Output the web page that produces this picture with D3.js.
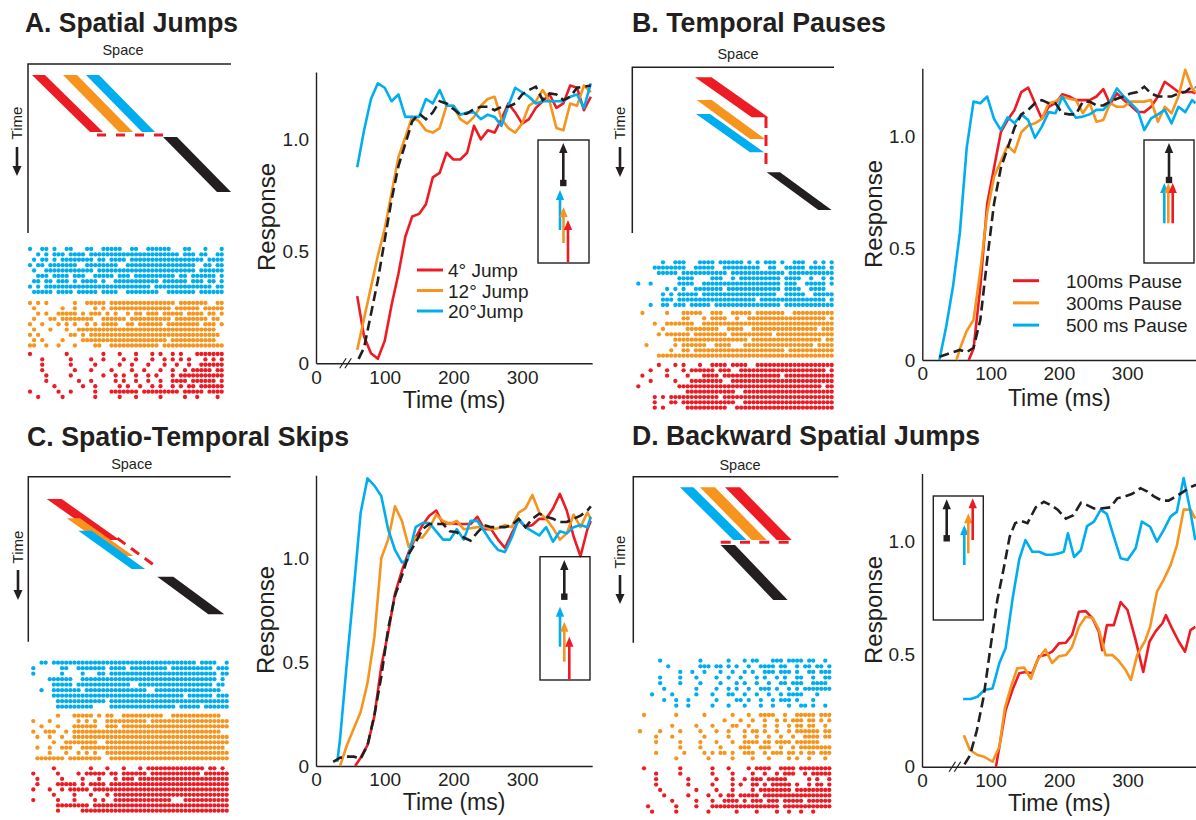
<!DOCTYPE html>
<html>
<head>
<meta charset="utf-8">
<script src="https://cdn.jsdelivr.net/npm/d3@7"></script>
<style>
  body { margin: 0; background: #fff; }
  svg { display: block; }
  text { font-family: "Liberation Sans", Arial, Helvetica, sans-serif; fill: #231f20; }
</style>
</head>
<body>
<svg id="fig" width="1196" height="820"></svg>
<script>
// ---------- response curves: [time after onset (ms), normalized response] ----------
// A. spatial jumps
const jump4  = [[60,0.30],[70,0.12],[80,0.045],[90,0.02],[100,0.10],[110,0.26],[120,0.40],[130,0.565],[140,0.655],[150,0.667],[160,0.71],[170,0.83],[180,0.85],[190,0.94],[200,0.91],[210,0.91],[220,0.94],[230,1.06],[240,1.00],[250,1.04],[260,1.03],[270,1.09],[280,1.16],[290,1.12],[300,1.07],[310,1.09],[320,1.14],[330,1.17],[340,1.20],[350,1.14],[360,1.16],[370,1.24],[380,1.23],[390,1.13],[400,1.19]];
const jump12 = [[60,0.06],[70,0.20],[80,0.34],[90,0.48],[100,0.60],[110,0.76],[120,0.92],[130,1.01],[140,1.10],[150,1.08],[160,1.04],[170,1.03],[180,1.05],[190,1.15],[200,1.15],[210,1.09],[220,1.07],[230,1.10],[240,1.15],[250,1.18],[260,1.19],[270,1.09],[280,1.05],[290,1.03],[300,1.07],[310,1.15],[320,1.17],[330,1.22],[340,1.17],[350,1.05],[360,1.04],[370,1.16],[380,1.15],[390,1.24],[400,1.21]];
const jump20 = [[60,0.875],[70,1.04],[80,1.18],[90,1.25],[100,1.23],[110,1.17],[120,1.20],[130,1.10],[140,1.10],[150,1.10],[160,1.18],[170,1.16],[180,1.22],[190,1.15],[200,1.15],[210,1.11],[220,1.12],[230,1.12],[240,1.09],[250,1.11],[260,1.10],[270,1.06],[280,1.15],[290,1.23],[300,1.21],[310,1.19],[320,1.16],[330,1.17],[340,1.17],[350,1.17],[360,1.17],[370,1.19],[380,1.20],[390,1.14],[400,1.25]];
const jumpRef = [[62,0.02],[70,0.07],[80,0.22],[90,0.37],[100,0.55],[110,0.73],[120,0.88],[130,0.98],[140,1.08],[150,1.115],[160,1.09],[170,1.12],[180,1.17],[190,1.16],[200,1.135],[210,1.11],[220,1.115],[230,1.135],[240,1.145],[250,1.145],[260,1.13],[270,1.145],[280,1.145],[290,1.16],[300,1.20],[310,1.22],[320,1.235],[330,1.175],[340,1.205],[350,1.20],[360,1.175],[370,1.19],[380,1.23],[390,1.235],[400,1.24]];

// B. temporal pauses
const pause100 = [[68,0],[75,0.05],[85,0.33],[95,0.70],[105,0.86],[115,1.02],[125,1.075],[135,1.12],[145,1.20],[155,1.22],[165,1.15],[175,1.08],[185,1.134],[195,1.15],[205,1.19],[215,1.18],[225,1.164],[235,1.164],[245,1.164],[255,1.18],[265,1.213],[275,1.146],[285,1.194],[295,1.164],[305,1.14],[315,1.112],[325,1.11],[335,1.134],[345,1.18],[355,1.246],[365,1.224],[375,1.20],[385,1.20],[395,1.20],[400,1.194]];
const pause300 = [[50,0],[55,0.05],[65,0.13],[75,0.18],[85,0.40],[95,0.66],[105,0.82],[115,0.89],[125,0.96],[135,0.93],[145,1.02],[155,1.05],[165,1.06],[175,1.08],[185,1.15],[195,1.157],[205,1.18],[215,1.17],[225,1.164],[235,1.105],[245,1.15],[255,1.067],[265,1.075],[275,1.15],[285,1.134],[295,1.134],[305,1.157],[315,1.157],[325,1.157],[335,1.164],[345,1.067],[355,1.134],[365,1.105],[375,1.18],[385,1.30],[395,1.216],[400,1.20]];
const pause500 = [[25,0],[35,0.15],[45,0.33],[55,0.57],[65,0.95],[75,1.157],[85,1.15],[95,1.18],[105,1.08],[115,1.03],[125,1.087],[135,1.06],[145,1.10],[155,1.075],[165,0.995],[175,1.045],[185,1.11],[195,1.105],[205,1.18],[215,1.127],[225,1.085],[235,1.09],[245,1.10],[255,1.12],[265,1.12],[275,1.157],[285,1.216],[295,1.18],[305,1.15],[315,1.12],[325,1.03],[335,1.082],[345,1.10],[355,1.12],[365,1.06],[375,1.134],[385,1.11],[395,1.164],[400,1.15]];
const pauseRef = [[25,0.015],[35,0.025],[45,0.035],[55,0.045],[65,0.035],[75,0.055],[85,0.18],[95,0.45],[105,0.70],[115,0.86],[125,0.95],[135,1.04],[145,1.10],[155,1.12],[165,1.15],[175,1.164],[185,1.15],[195,1.15],[205,1.105],[215,1.10],[225,1.10],[235,1.157],[245,1.157],[255,1.14],[265,1.14],[275,1.157],[285,1.17],[295,1.18],[305,1.194],[315,1.20],[325,1.224],[335,1.194],[345,1.18],[355,1.18],[365,1.18],[375,1.194],[385,1.20],[395,1.224],[400,1.22]];

// C. spatio-temporal skips
const skipRed = [[57,0],[65,0.04],[75,0.10],[85,0.24],[95,0.48],[105,0.64],[115,0.83],[125,0.94],[135,1.03],[145,1.10],[155,1.16],[165,1.205],[175,1.23],[185,1.165],[195,1.17],[205,1.165],[215,1.165],[225,1.165],[235,1.20],[245,1.14],[255,1.14],[265,1.09],[275,1.05],[285,1.12],[295,1.185],[305,1.15],[315,1.16],[325,1.19],[335,1.19],[345,1.24],[355,1.31],[365,1.23],[375,1.105],[385,1.01],[395,1.14],[400,1.18]];
const skipOrange = [[35,0],[45,0.10],[55,0.18],[65,0.26],[75,0.40],[85,0.62],[95,1.0],[105,1.09],[115,1.25],[125,1.18],[135,1.055],[145,1.10],[155,1.10],[165,1.145],[175,1.21],[185,1.18],[195,1.165],[205,1.18],[215,1.14],[225,1.145],[235,1.15],[245,1.15],[255,1.14],[265,1.145],[275,1.16],[285,1.15],[295,1.22],[305,1.24],[315,1.305],[325,1.22],[335,1.19],[345,1.145],[355,1.09],[365,1.12],[375,1.21],[385,1.15],[395,1.22],[400,1.19]];
const skipCyan = [[31,0.02],[35,0.13],[45,0.50],[55,0.85],[65,1.22],[75,1.385],[85,1.35],[95,1.30],[105,1.14],[115,1.04],[125,0.98],[133,0.99],[145,1.15],[155,1.17],[165,1.17],[175,1.13],[185,1.09],[195,1.09],[205,1.14],[215,1.09],[225,1.18],[235,1.18],[245,1.13],[255,1.08],[265,1.04],[275,1.03],[285,1.10],[295,1.19],[305,1.15],[315,1.13],[325,1.11],[335,1.15],[345,1.08],[355,1.13],[365,1.12],[375,1.15],[385,1.16],[395,1.15],[400,1.20]];
const skipRef = [[25,0.02],[35,0.04],[45,0.045],[55,0.045],[65,0.035],[75,0.10],[85,0.245],[95,0.43],[105,0.66],[115,0.82],[125,0.915],[135,1.02],[145,1.075],[155,1.14],[165,1.165],[175,1.165],[185,1.165],[195,1.13],[205,1.125],[215,1.10],[225,1.085],[235,1.125],[245,1.16],[255,1.15],[265,1.15],[275,1.15],[285,1.16],[295,1.19],[305,1.15],[315,1.19],[325,1.215],[335,1.20],[345,1.19],[355,1.175],[365,1.175],[375,1.19],[385,1.205],[395,1.23],[400,1.25]];

// D. backward spatial jumps
const backCyan = [[60,0.30],[71,0.30],[81,0.31],[91,0.34],[103,0.347],[113,0.46],[122,0.525],[132,0.74],[142,0.92],[151,1.005],[161,0.953],[171,0.953],[181,0.94],[190,0.94],[200,0.946],[207,0.953],[213,1.035],[222,0.93],[232,0.96],[241,1.067],[251,1.087],[261,1.14],[270,1.12],[280,1.02],[290,0.924],[300,0.917],[312,0.97],[321,1.087],[333,1.064],[343,0.998],[353,1.05],[363,1.11],[372,1.13],[382,1.28],[391,1.146],[399,1.005]];
const backOrange = [[61,0.14],[70,0.074],[81,0.052],[91,0.044],[103,0.022],[113,0.089],[121,0.26],[130,0.355],[139,0.436],[149,0.44],[159,0.39],[168,0.47],[180,0.52],[190,0.46],[200,0.49],[210,0.495],[219,0.53],[229,0.62],[239,0.665],[249,0.66],[258,0.61],[268,0.495],[278,0.495],[287,0.47],[297,0.43],[305,0.385],[314,0.495],[326,0.56],[333,0.62],[343,0.776],[353,0.83],[363,0.895],[372,0.98],[382,1.14],[392,1.14],[399,1.10]];
const backRed = [[108,0],[113,0.089],[122,0.25],[132,0.34],[142,0.414],[151,0.42],[161,0.414],[171,0.49],[180,0.495],[190,0.51],[200,0.547],[210,0.55],[219,0.584],[229,0.687],[239,0.69],[249,0.658],[258,0.60],[263,0.517],[270,0.628],[280,0.628],[290,0.73],[300,0.695],[312,0.56],[323,0.42],[332,0.554],[341,0.60],[351,0.636],[356,0.672],[365,0.613],[375,0.554],[384,0.51],[392,0.606],[399,0.62]];
const backRef = [[62,0.01],[70,0.05],[80,0.16],[90,0.31],[100,0.53],[110,0.74],[120,0.89],[128,1.02],[136,1.08],[144,1.09],[154,1.08],[166,1.15],[178,1.175],[188,1.16],[198,1.14],[210,1.10],[221,1.115],[232,1.17],[241,1.16],[251,1.145],[261,1.145],[275,1.15],[285,1.19],[295,1.197],[307,1.21],[319,1.235],[329,1.22],[338,1.20],[350,1.18],[360,1.18],[370,1.197],[382,1.22],[392,1.24],[400,1.25]];

// axis ticks
const timeTicks = [0, 100, 200, 300];
const respTicks = [0, 0.5, 1.0];

// legend labels
const legendA = ["4\u00b0 Jump", "12\u00b0 Jump", "20\u00b0Jump"];
const legendB = ["100ms Pause", "300ms Pause", "500 ms Pause"];

// ---------- spike rasters: one string per trial, 'o' = spike in that time bin ----------
const rasterA_cyan = [
"o..oo.o. .oo...oo ..ooooo. .oo..ooo ooo...oo ...o...o",
"..o.o.oo o.oooo.o oooooooo oooooooo ooooo.oo o.oo..oo",
".o.oo.o. oooooooo .oo.oooo .ooooooo oooooooo ooo.oooo",
"o.oo.ooo oooo..oo oooooo.. oooooooo oooooooo o..oo.oo",
".o..oooo oooooooo .ooooooo oooooooo oooooooo o.oooooo",
"..ooo.oo oo.ooo.. ooooo.oo o.oooooo oooo.oo. oooooo.o",
".oo.oo.o oo.o.ooo o.o..ooo oooooooo .oooooo. ooo.oo.o",
"o.o.oooo oooooooo oooooooo oooooo.o oooooooo ooooo.oo",
".ooooo.o ooo.oooo o.oooo.. oooooooo ..oooooo o.oooooo"];
const rasterA_orange = [
"o.o.o... ...o..oo ooo.oooo oooooooo oooo.ooo oooo..oo",
".o...... o..o.... o.o.oooo oooooooo ooo.oooo oo.ooooo",
"..o.o..o oooo.o.o oo.o.o.. o.oo.ooo .ooooo.o ooo.oo.o",
".o...oo. oooooooo ..oooooo .ooooooo ooo.oooo oooo.oo.",
"o..o...o .o.o..o. o.oooo.. oo.ooooo o.oooooo oo.ooo.o",
".o...o.. .o..oooo oooooooo oooooooo oooooooo oooooo..",
"o.o..... ..oo.o.o oooooooo oooooooo oooooooo ooooooo.",
".o.o.... o....ooo oooooooo oooooooo oo.ooooo oooooo..",
"oo..o..o ...o.... oo..oooo oooooooo .ooooooo oooooooo"];
const rasterA_red = [
"o....... .o...... ..o...o. ..o...o. o..o.o.. .ooooooo",
"...o.... ..o....o ..o....o ..o...o. .o.o.o.o ...o.o.o",
"...o.... ..o..... o.....o. .o...o.. .o..o..o ..oooooo",
"...o.... ...o...o ....o... .o..o... o..o..o. ooooo.oo",
"....o... ..o..... ..o..o.o ..o..o.o ...o.ooo oooooooo",
"....o... ....o..o .....o.o ..o..o.. o..oooo. oooooo.o",
"......o. .....o.. o.....o. o..o..o. o..o.o.o o.oooooo",
"o......o ..o..... o...oooo ooo.oooo ooooo.oo ooo.oooo",
"..o..... o....... o.....o. ..o..... o.....o. .o....o."];

const rasterB_cyan = [
"......o. .ooo...o ooo.oooo oo.o.o.o oo.o..oo o..o.o.o",
"....oooo oooo..oo ooo..ooo oooooo.. oo..oooo o.oooo.o",
".....ooo oo.ooooo oooooo.o oooooooo oooo.ooo oooooooo",
"........ ..oooo.. ..ooo..o .ooooooo ooo.oooo ..o..o.o",
"o..o.... ..oooo.. oooooooo oooooooo ooo.ooo. .ooooo.o",
".......o .o.o..oo ooooo.oo oooooooo ooo.oooo ..oooo..",
"......o. o.ooooo. oooooooo oooooooo oo..oooo o..ooooo",
"......oo o.oooooo oooooooo ooooo.oo oooooooo oooooo.o",
"...o..oo .ooo.ooo oo.ooooo oooooooo ooo.oooo oooooooo"];
const rasterB_orange = [
".o.....o ...ooooo ..ooo..o oooo.ooo oooo..oo oooooooo",
"........ ...oo... o.oooo.. o..ooooo oooooooo oooooo.o",
"....o..o oooooo.. oooooooo oooooooo oooooooo oooooooo",
"......o. ....oooo oooo..oo oo..oooo oooooooo oooo.ooo",
".....o.o ooooo.oo oooooo.o oooooooo o.oooooo oooooooo",
"........ .ooooooo oooooooo ooo.oooo oooooooo ooooo.oo",
"..o..... .o.ooooo o..oooo. ..oooooo oooooooo ooo.oooo",
"........ o..oo.oo oooooooo oooooooo oooo.ooo oooooooo",
".....ooo oooooooo oooooooo oooooooo oooooooo oooooooo"];
const rasterB_red = [
".....o.. .o.o...o ..oooo.o ooo..ooo oooooooo oooooooo",
"...o...o ...o.ooo ooo.ooo. .ooooooo oooooooo oooooo.o",
".o.....o ....o... oooo.ooo oooooooo ooo.oooo oooooooo",
"...o.... .o...ooo ooooo..o oooooooo oooooooo oooooooo",
"o....... ..oooooo oooooooo oooooooo oooooooo ooooo.oo",
"........ ....oooo oooooooo ..oooooo oooooooo oooooooo",
"....o.o. oooooooo oooo.ooo oooooooo oooooooo oooooooo",
"....o... oo.ooooo oooooooo ..oooooo oooooooo oooooooo",
"....o.o. ....oooo oooooo.. oooooooo oooooooo oooooooo"];

const rasterC_cyan = [
"..oo.ooo oooooooo oooooooo oooooooo oooooooo .oooo..o",
"o......o o..ooooo oo.oooo. oooooooo o.oooooo oooo.ooo",
"o......o ....o... oo.ooooo oooooooo oooooooo ooooo.oo",
"....oooo oo..oooo oooooooo oooooooo oooooooo ooooo.o.",
".....ooo oo.ooooo oooooooo ..oooooo oooooooo oooo.oo.",
"..o..ooo oooo.ooo oooooooo oooo..oo oooooooo oooooo..",
".....ooo oooooooo oooooooo oooooooo ooooo.oo oooo.ooo",
"......oo oooooooo oo.ooooo oooooooo oooooooo oooooooo",
"......oo ooooooo. ...ooooo oooooooo ooo.oooo o.oooooo"];
const rasterC_orange = [
"......o. ..ooooo. o.oo..oo oooooooo ..oooooo oooooo..",
"o...o... ...o.o.o ..oooooo oooo.ooo oooooooo oooooooo",
"..o...o. ..oooooo ..ooo.oo oooooooo oooooooo oooooooo",
"o..ooo.. o.oooooo oooooooo oooooooo oooooooo oooooo..",
".o..o..o ..oooooo oooooooo oooooooo oooooooo oooooooo",
".....o.. oooooooo ..oooooo oooooooo oooooooo oooooooo",
".o..o..o oo..oooo oooooooo oooooooo oooooooo ooooooo.",
"....o... o..o.o.o ..oooooo oooooooo oooooooo oooooooo",
".ooooooo .ooooooo o..ooooo oooooooo oooooooo oooooooo"];
const rasterC_red = [
".....o.. ......o. ..o...o. ..o.oooo oooooooo oo.oo.o.",
"o.....o. ...o.ooo oo.oo.oo oooo.ooo oooooooo o.oooooo",
".o.....o ....o... o...o.oo o.oooooo oooooooo oooooooo",
".o....oo ooo.o.oo oo.ooooo oooooooo oooooooo oooooooo",
"o...o..o .ooooo.o oooooooo oooooooo oooooooo oooooooo",
".....o.. ..o...o. ..o.oooo oooooooo oooooooo oooooooo",
"o.....o. ..o....o .o..oooo oooooooo oo...ooo oooooooo",
"......oo oooooo.o oooooooo oooooooo oooooooo oooooooo",
"......o. ....oooo oooooooo oooooooo oooooooo oooooooo"];

const rasterD_cyan = [
".....o.. .......o ......o. ..o.oo.. .ooo.ooo o.oo..o.",
".......o .......o oo.oo.o. o..o..oo oo.oo..o .oo.oo.o",
"........ ..o..o.. o...o..o ..o.o..o oo.ooo.o ..oo.ooo",
".....o.. ..o...o. ...o..o. .o...o.o ..o.o..o o..o..oo",
".....o.. ..o....o ....o... o.o..o.. o..oo.oo o..oooo.",
"......o. ......o. ...o..o. o..o..oo o.o..o.o .ooooooo",
"...o.... o.....o. ..o...oo ..o..o.. o..o.ooo o...o...",
"......o. .o..o... ...o.... oo.o..o. .o.ooo.o ...o....",
"........ .o..o... ..o...o. ..o...o. .o...o.. oo.o..o."];
const rasterD_orange = [
".o...... .o...... o......o ...o..oo oo..o..o oooo.ooo",
"........ ........ .....o.. .o..o..o ..o.o.oo o.oo.o.o",
"........ o.....o. ..o....o o..o...o ..o..o.o o.oo..o.",
"o....o.. ..o....o ...o..o. ..o.oo.o ..o..o.o ooooo.oo",
"....o... o....... o.....o. ..o..o.. o..o..o. .oooo.oo",
"....o... ..o....o ...o...o ..oooo.o o.oooo.o ooooo...",
"........ ..o....o ....o... .ooo..oo o..o..o. oooooooo",
"....o... ...o.... o.o.oo.o ..ooo..o .ooo.oo. o.oo.ooo",
"........ .o...... .o.....o ....o... o....o.o ..o...o."];
const rasterD_red = [
".o...... ..o..... ..o...o. ...o.ooo o..oooo. oooooooo",
"....o... ..o..... ..o....o ....o..o ..o.ooo. .o.ooooo",
"....o... ....o... ...o...o ..o.ooo. ooooo... ..o.o..o",
"....o... ....o... ..o....o .o..oo.o .ooooo.o ..o.oo.o",
".....o.. ......o. ...o...o ....o.oo oooooo.o oooooooo",
"......o. ....o... .o..o.oo .ooooo.o oooooooo oooooooo",
"........ o.....o. ..o..ooo o.o.ooo. ooo.oooo o.oooooo",
"..o..... .o....o. ..oooooo oooooooo ooo.oooo oooooooo",
"...o.... .o...... .o...... o....o.. ..o..o.. o..o...."];

// ---------- styling ----------
const INK = "#231f20";
const RED = "#ed1c24", ORANGE = "#f7941d", CYAN = "#00aeef";

// ---------- panel layout ----------
const panels = [
  {
    title: {text: "A. Spatial Jumps", x: 25, y: 32, len: 213},
    sch: {ox: 28, oy: 64, w: 203, h: 169, spaceX: 123, spaceY: 55, timeX: 17, timeY: 123, arrow: [147, 176],
      bands: [{c: RED, x: 4, y0: 11, y1: 68, w: 13, dx: 58}, {c: ORANGE, x: 35, y0: 11, y1: 68, w: 14, dx: 56}, {c: CYAN, x: 58, y0: 11, y1: 68, w: 13, dx: 56}],
      dash: {path: [[135, 71], [59, 71]], pattern: "9,10"},
      probe: {x: 135, y0: 73, y1: 128, w: 14, dx: 54}},
    raster: {rows: [rasterA_cyan, rasterA_orange, rasterA_red], x0: 30, x1: 221.7, ys: [[249, 292], [303, 345.5], [354, 397]]},
    plot: {left: 316, px100: 68.7, xMax: 402, bottom: 363.3, unit: 224, yTop: 1.30, breakT: 43,
      series: [[jump4, RED], [jump12, ORANGE], [jump20, CYAN]], ref: jumpRef,
      respX: 267, respY: 217, timeY: 408,
      legend: {labels: legendA, x: 417, y: 270, dy: 20.5},
      inset: {x: 538, y: 140, w: 51, h: 123, probe: {x: 563.3, base: 183, tip: 143},
        arrows: [{x: 560, base: 230, tip: 190, c: CYAN}, {x: 563.5, base: 243, tip: 207, c: ORANGE}, {x: 568, base: 262, tip: 220, c: RED}]}}
  },
  {
    title: {text: "B. Temporal Pauses", x: 632, y: 32, len: 254},
    sch: {ox: 632.3, oy: 67.3, w: 201.7, h: 165.7, spaceX: 738, spaceY: 59, timeX: 620, timeY: 123, arrow: [147, 177],
      bands: [{c: RED, x: 62.7, y0: 10, y1: 50, w: 16.5, dx: 56.7}, {c: ORANGE, x: 64.4, y0: 32.7, y1: 71.7, w: 15, dx: 53.3}, {c: CYAN, x: 63.7, y0: 46.7, y1: 85, w: 14, dx: 54}],
      dash: {path: [[133.7, 49.7], [133.7, 99.4]], pattern: "11,7"},
      probe: {x: 134.4, y0: 105, y1: 142.7, w: 13.3, dx: 51.6}},
    raster: {rows: [rasterB_cyan, rasterB_orange, rasterB_red], x0: 638.3, x1: 831.7, ys: [[262.3, 305], [313, 355.7], [365, 407.7]]},
    plot: {left: 922.3, px100: 68.3, xMax: 401, bottom: 360, unit: 223.3, yTop: 1.306, breakT: null,
      series: [[pause100, RED], [pause300, ORANGE], [pause500, CYAN]], ref: pauseRef,
      respX: 874, respY: 214, timeY: 406,
      legend: {labels: legendB, x: 1013, y: 280.7, dy: 22.2, textX: 1066},
      inset: {x: 1144, y: 140, w: 50, h: 123, probe: {x: 1169, base: 180, tip: 143},
        arrows: [{x: 1164.3, base: 223.3, tip: 183, c: CYAN}, {x: 1168.3, base: 223.3, tip: 183, c: ORANGE}, {x: 1172.7, base: 223.3, tip: 183, c: RED}]}}
  },
  {
    title: {text: "C. Spatio-Temporal Skips", x: 27, y: 446, len: 322},
    sch: {ox: 28.3, oy: 476.7, w: 202.4, h: 165, spaceX: 131.7, spaceY: 469, timeX: 18, timeY: 547, arrow: [570, 600],
      bands: [{c: RED, x: 18.4, y0: 22.3, y1: 63.3, w: 15, dx: 58}, {c: ORANGE, x: 38.4, y0: 41.6, y1: 79.3, w: 13.3, dx: 53.3}, {c: CYAN, x: 50, y0: 54, y1: 92.3, w: 13.4, dx: 53.4}],
      dash: {path: [[89, 61.5], [130, 91.6]], pattern: "10,7"},
      probe: {x: 129, y0: 100, y1: 137.6, w: 16, dx: 51}},
    raster: {rows: [rasterC_cyan, rasterC_orange, rasterC_red], x0: 33.3, x1: 226.7, ys: [[662.7, 706.7], [715.7, 758.3], [768.3, 810.7]]},
    plot: {left: 316, px100: 68.7, xMax: 402, bottom: 766, unit: 207.7, yTop: 1.40, breakT: null,
      series: [[skipRed, RED], [skipOrange, ORANGE], [skipCyan, CYAN]], ref: skipRef,
      respX: 266, respY: 620, timeY: 810,
      legend: null,
      inset: {x: 540, y: 556.7, w: 50, h: 123.3, probe: {x: 564.3, base: 596.7, tip: 560},
        arrows: [{x: 560, base: 646.7, tip: 606.7, c: CYAN}, {x: 564.3, base: 661.7, tip: 621.7, c: ORANGE}, {x: 569.3, base: 680, tip: 636.7, c: RED}]}}
  },
  {
    title: {text: "D. Backward Spatial Jumps", x: 632, y: 445, len: 348},
    sch: {ox: 633.3, oy: 476.7, w: 205, h: 166, spaceX: 740, spaceY: 470, timeX: 620, timeY: 552, arrow: [575, 604],
      bands: [{c: CYAN, x: 46.7, y0: 10.6, y1: 63.3, w: 13.3, dx: 53.3}, {c: ORANGE, x: 66.7, y0: 10.6, y1: 63.3, w: 15, dx: 51.7}, {c: RED, x: 91.7, y0: 10.6, y1: 63.3, w: 15, dx: 51.7}],
      dash: {path: [[87.4, 65.6], [156.7, 65.6]], pattern: "10,9.3"},
      probe: {x: 87.4, y0: 68.3, y1: 123.3, w: 14.3, dx: 52.6}},
    raster: {rows: [rasterD_cyan, rasterD_orange, rasterD_red], x0: 640, x1: 829.3, ys: [[660.7, 705.7], [715, 758.3], [768.3, 811.7]]},
    plot: {left: 922, px100: 68.5, xMax: 401, bottom: 766.7, unit: 225.5, yTop: 1.30, breakT: 48,
      series: [[backRed, RED], [backOrange, ORANGE], [backCyan, CYAN]], ref: backRef,
      respX: 874, respY: 610, timeY: 811,
      legend: null,
      inset: {x: 933.3, y: 496, w: 50, h: 124, probe: {x: 946.7, base: 538.3, tip: 499.3},
        arrows: [{x: 964.3, base: 565, tip: 525, c: CYAN}, {x: 968.3, base: 553.3, tip: 513.3, c: ORANGE}, {x: 972.7, base: 540, tip: 498.3, c: RED}]}}
  }
];

const svg = d3.select("#fig");

// upward arrow with a triangular head
function upArrow(g, x, base, tip, color, width) {
  const head = 10, half = 4.2;
  g.append("line").attr("x1", x).attr("x2", x).attr("y1", base).attr("y2", tip + head - 1)
    .attr("stroke", color).attr("stroke-width", width);
  g.append("path").attr("d", `M${x - half},${tip + head}L${x},${tip}L${x + half},${tip + head}Z`).attr("fill", color);
}

function drawTitle(g, t) {
  g.append("text").attr("x", t.x).attr("y", t.y)
    .attr("font-size", 28).attr("font-weight", "bold")
    .attr("textLength", t.len).attr("lengthAdjust", "spacingAndGlyphs")
    .text(t.text);
}

// space-time diagram of the stimulus
function drawSchematic(g, s) {
  const sg = g.append("g").attr("transform", `translate(${s.ox},${s.oy})`);
  sg.append("path").attr("d", `M${s.w},0H0V${s.h}`).attr("fill", "none").attr("stroke", INK).attr("stroke-width", 1.5);
  const band = b => `M${b.x},${b.y0}H${b.x + b.w}L${b.x + b.w + b.dx},${b.y1}H${b.x + b.dx}Z`;
  s.bands.forEach(b => sg.append("path").attr("d", band(b)).attr("fill", b.c));
  sg.append("path").attr("d", d3.line()(s.dash.path)).attr("fill", "none")
    .attr("stroke", RED).attr("stroke-width", 3).attr("stroke-dasharray", s.dash.pattern);
  sg.append("path").attr("d", band(s.probe)).attr("fill", INK);

  g.append("text").attr("x", s.spaceX).attr("y", s.spaceY).attr("text-anchor", "middle")
    .attr("font-size", 14.5).text("Space");
  g.append("text").attr("transform", `translate(${s.timeX},${s.timeY}) rotate(-90)`)
    .attr("text-anchor", "middle").attr("dy", "0.35em").attr("font-size", 15).text("Time");
  // downward arrow for time
  const [a0, a1] = s.arrow, x = s.timeX;
  g.append("line").attr("x1", x).attr("x2", x).attr("y1", a0).attr("y2", a1 - 9)
    .attr("stroke", INK).attr("stroke-width", 2.6);
  g.append("path").attr("d", `M${x - 4.5},${a1 - 10}L${x},${a1}L${x + 4.5},${a1 - 10}Z`).attr("fill", INK);
}

function drawRasters(g, r) {
  const colors = [CYAN, ORANGE, RED];
  const col = d3.scaleLinear().domain([0, 47]).range([r.x0, r.x1]);
  r.rows.forEach((rows, b) => {
    const row = d3.scaleLinear().domain([0, rows.length - 1]).range(r.ys[b]);
    const spikes = [];
    rows.forEach((s, i) => s.replace(/ /g, "").split("").forEach((ch, j) => { if (ch === "o") spikes.push([j, i]); }));
    g.append("g").selectAll("circle").data(spikes).join("circle")
      .attr("cx", d => col(d[0])).attr("cy", d => row(d[1])).attr("r", 2.15).attr("fill", colors[b]);
  });
}

function drawPlot(g, p) {
  const x = d3.scaleLinear().domain([0, p.xMax]).range([p.left, p.left + p.xMax * p.px100 / 100]);
  const y = d3.scaleLinear().domain([0, p.yTop]).range([p.bottom, p.bottom - p.yTop * p.unit]);

  const yAxis = g.append("g").attr("transform", `translate(${p.left},0)`)
    .call(d3.axisLeft(y).tickValues(respTicks).tickFormat(d => d === 0 ? "0" : d3.format(".1f")(d)).tickSize(0).tickPadding(7));
  const xAxis = g.append("g").attr("transform", `translate(0,${p.bottom})`)
    .call(d3.axisBottom(x).tickValues(timeTicks).tickFormat(d3.format("d")).tickSize(0).tickPadding(7));
  [xAxis, yAxis].forEach(a => {
    a.attr("font-family", null).attr("font-size", null);
    a.select(".domain").attr("stroke", INK).attr("stroke-width", 1.4);
    a.selectAll("text").attr("font-size", 19).attr("fill", INK);
  });

  if (p.breakT !== null) {
    const bx = x(p.breakT);
    [-2.6, 2.6].forEach(o => g.append("line")
      .attr("x1", bx + o - 3.2).attr("y1", p.bottom + 5).attr("x2", bx + o + 3.2).attr("y2", p.bottom - 5)
      .attr("stroke", INK).attr("stroke-width", 1.2));
  }

  const line = d3.line().x(d => x(d[0])).y(d => y(d[1]));
  p.series.forEach(([data, color]) => g.append("path").datum(data).attr("d", line)
    .attr("fill", "none").attr("stroke", color).attr("stroke-width", 2.6).attr("stroke-linejoin", "round"));
  g.append("path").datum(p.ref).attr("d", line).attr("fill", "none").attr("stroke", INK)
    .attr("stroke-width", 2.6).attr("stroke-dasharray", "10,5");

  g.append("text").attr("transform", `translate(${p.respX},${p.respY}) rotate(-90)`)
    .attr("text-anchor", "middle").attr("dy", "0.35em").attr("font-size", 24).text("Response");
  g.append("text").attr("x", (x(0) + x(p.xMax)) / 2).attr("y", p.timeY)
    .attr("text-anchor", "middle").attr("font-size", 23).text("Time (ms)");

  if (p.legend) {
    const L = p.legend;
    L.labels.forEach((lab, i) => {
      const yy = L.y + i * L.dy;
      g.append("line").attr("x1", L.x).attr("x2", L.x + 26).attr("y1", yy).attr("y2", yy)
        .attr("stroke", p.series[i][1]).attr("stroke-width", 3);
      g.append("text").attr("x", L.textX || L.x + 31).attr("y", yy + 7).attr("font-size", 19).text(lab);
    });
  }

  const I = p.inset;
  g.append("rect").attr("x", I.x).attr("y", I.y).attr("width", I.w).attr("height", I.h)
    .attr("fill", "none").attr("stroke", INK).attr("stroke-width", 1.4);
  upArrow(g, I.probe.x, I.probe.base, I.probe.tip, INK, 2.6);
  g.append("rect").attr("x", I.probe.x - 3.2).attr("y", I.probe.base - 3.2).attr("width", 6.4).attr("height", 6.4).attr("fill", INK);
  I.arrows.forEach(a => upArrow(g, a.x, a.base, a.tip, a.c, 2.6));
}

panels.forEach(p => {
  const g = svg.append("g");
  drawTitle(g, p.title);
  drawSchematic(g, p.sch);
  drawRasters(g, p.raster);
  drawPlot(g, p.plot);
});
</script>
</body>
</html>
